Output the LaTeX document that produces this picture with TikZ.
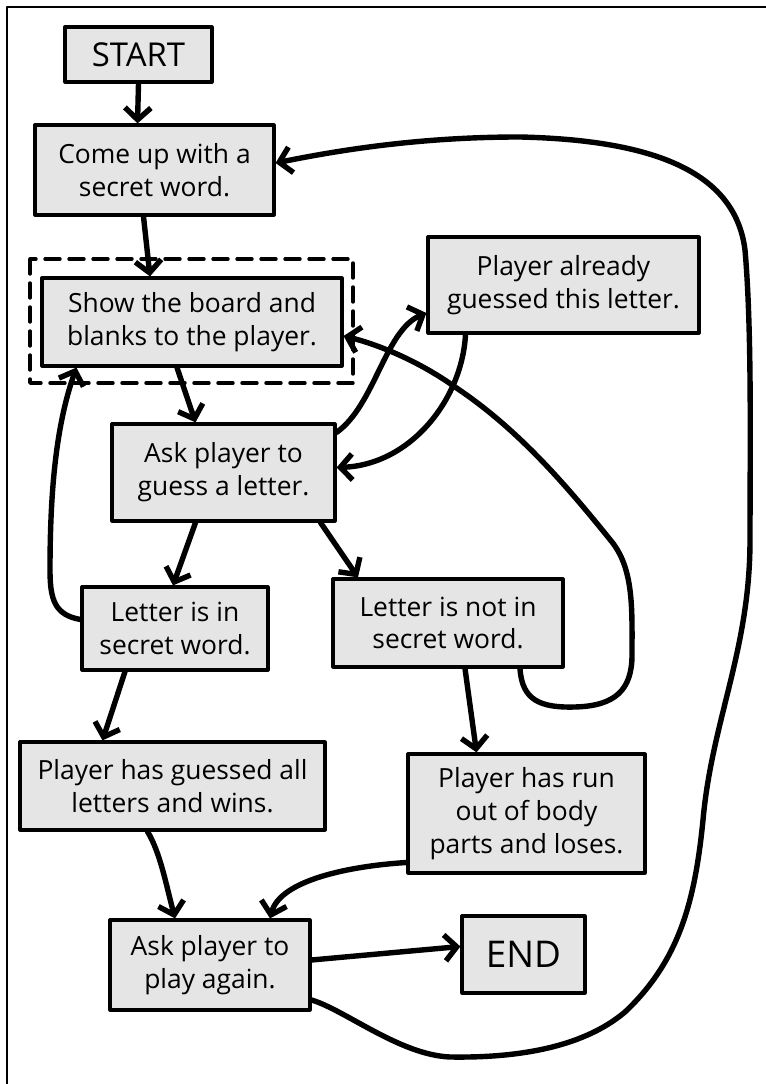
\documentclass[tikz,border=0pt]{standalone}
\usepackage{fontspec}
\setmainfont{Open Sans}
\usetikzlibrary{arrows.meta}

\begin{document}
\begin{tikzpicture}[>={Straight Barb[length=12bp,width=26bp]},line join=round,line cap=round,
  flowbox/.style={draw=black,line width=3.2bp,fill=black!10,align=center,inner sep=0pt,font=\fontsize{26.5}{33}\selectfont},
  flowline/.style={black,line width=5.4bp,->},
  ]
%%
\useasboundingbox (0bp,0bp) rectangle (766bp,1084bp);
\draw [black,line width=1.4bp] (7bp,0bp) -- (7bp,1077bp) -- (766bp,1077bp);
\draw [black,line width=3.4bp,dash pattern=on 15bp off 9bp] (30bp,825bp) rectangle (353bp,701bp);
%
\node (node_0) at (138.5bp,1029.5bp) [flowbox,minimum width=147bp,minimum height=55bp,font=\fontsize{33}{36}\selectfont] {START};
  \node (node_1) at (154.5bp,914bp) [flowbox,minimum width=239bp,minimum height=90bp] {Come up with a\\secret word.};
  \node (node_2) at (192bp,762bp) [flowbox,minimum width=300bp,minimum height=88bp] {Show the board and\\blanks to the player.};
  \node (node_3) at (563.5bp,799bp) [flowbox,minimum width=271bp,minimum height=96bp] {Player already\\guessed this letter.};
  \node (node_4) at (223.5bp,611.5bp) [flowbox,minimum width=223bp,minimum height=97bp] {Ask player to\\guess a letter.};
  \node (node_5) at (175bp,455.5bp) [flowbox,minimum width=186bp,minimum height=83bp] {Letter is in\\secret word.};
  \node (node_6) at (448bp,461bp) [flowbox,minimum width=230bp,minimum height=88bp] {Letter is not in\\secret word.};
  \node (node_7) at (172.5bp,298bp) [flowbox,minimum width=305bp,minimum height=88bp] {Player has guessed all\\letters and wins.};
  \node (node_8) at (526.5bp,270.5bp) [flowbox,minimum width=237bp,minimum height=119bp] {Player has run\\out of body\\parts and loses.};
  \node (node_9) at (210bp,119bp) [flowbox,minimum width=200bp,minimum height=90bp] {Ask player to\\play again.};
  \node (node_10) at (523.5bp,129.5bp) [flowbox,minimum width=123bp,minimum height=77bp,font=\fontsize{37}{40}\selectfont] {END};
  \draw [flowline] (node_0.south) -- ([xshift=-17bp]node_1.north);
  \draw [flowline] ([xshift=-11bp]node_1.south) -- ([xshift=-42bp]node_2.north);
  \draw [flowline] ([xshift=-15bp]node_2.south) -- ([xshift=-28bp]node_4.north);
  \draw [flowline] ([yshift=-10bp]node_4.north east) ..controls (375bp,679bp) and (385bp,754bp) .. ([yshift=-28bp]node_3.west);
  \draw [flowline] ([xshift=-98bp]node_3.south) ..controls (462bp,684bp) and (410bp,619bp) .. ([yshift=5bp]node_4.east);
  \draw [flowline] ([xshift=-28bp]node_4.south) -- ([xshift=-2bp]node_5.north);
  \draw [flowline] ([xshift=97bp]node_4.south) -- ([xshift=-90bp]node_6.north);
  \draw [flowline] ([yshift=9bp]node_5.west) ..controls (55bp,469bp) and (50bp,484bp) .. (50bp,514bp) .. controls (50bp,604bp) and (58bp,664bp) .. ([xshift=36bp]node_2.south west);
  \draw [flowline] ([xshift=72bp]node_6.south) ..controls (522bp,384bp) and (540bp,376bp) .. (575bp,377bp) .. controls (615bp,378bp) and (632bp,394bp) .. (632bp,429bp) .. controls (632bp,474bp) and (634bp,514bp) .. (612bp,542bp) .. controls (570bp,594bp) and (520bp,654bp) .. (455bp,697bp) .. controls (420bp,722bp) and (380bp,739bp) .. ([yshift=-14bp]node_2.east);
  \draw [flowline] ([xshift=-50bp]node_5.south) -- ([xshift=-70bp]node_7.north);
  \draw [flowline] ([xshift=17bp]node_6.south) -- ([xshift=-50bp]node_8.north);
  \draw [flowline] ([xshift=-25bp]node_7.south) ..controls (160bp,232bp) and (166bp,200bp) .. ([xshift=-35bp]node_9.north);
  \draw [flowline] ([yshift=-49bp]node_8.west) ..controls (350bp,218bp) and (280bp,204bp) .. ([xshift=60bp]node_9.north);
  \draw [flowline] ([yshift=5bp]node_9.east) -- ([yshift=8bp]node_10.west);
  \draw [flowline] ([yshift=-35bp]node_9.east) ..controls (345bp,74bp) and (400bp,29bp) .. (450bp,27bp) .. controls (510bp,26bp) and (580bp,34bp) .. (625bp,72bp) .. controls (680bp,124bp) and (695bp,184bp) .. (703bp,264bp) .. controls (712bp,364bp) and (750bp,434bp) .. (750bp,544bp) .. controls (750bp,634bp) and (752bp,754bp) .. (745bp,834bp) .. controls (735bp,914bp) and (650bp,944bp) .. (520bp,947bp) .. controls (420bp,947bp) and (340bp,934bp) .. ([yshift=7bp]node_1.east);
%
\end{tikzpicture}
\end{document}
